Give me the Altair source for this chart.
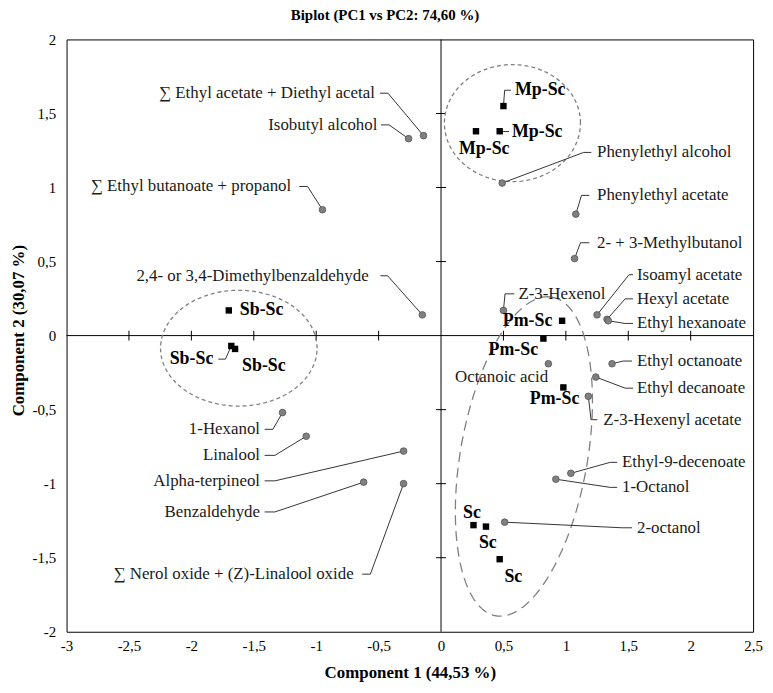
import altair as alt
import numpy as np
import pandas as pd

TITLE = "Biplot (PC1 vs PC2: 74,60 %)"
X_TITLE = "Component 1 (44,53 %)"
Y_TITLE = "Component 2 (30,07 %)"

x_ticks = [-3, -2.5, -2, -1.5, -1, -0.5, 0, 0.5, 1, 1.5, 2, 2.5]
y_ticks = [-2, -1.5, -1, -0.5, 0, 0.5, 1, 1.5, 2]
cross_x = [-2.5, -2, -1.5, -1, -0.5, 0.5, 1, 1.5, 2]
cross_y = [-1.5, -1, -0.5, 0.5, 1, 1.5]

# ---- variables (grey circles) ----
var_names = [
    "∑ Ethyl acetate + Diethyl acetal", "Isobutyl alcohol",
    "∑ Ethyl butanoate + propanol", "2,4- or 3,4-Dimethylbenzaldehyde",
    "1-Hexanol", "Linalool", "Alpha-terpineol", "Benzaldehyde",
    "∑ Nerol oxide + (Z)-Linalool oxide",
    "Phenylethyl alcohol", "Phenylethyl acetate", "2- + 3-Methylbutanol",
    "Z-3-Hexenol", "Isoamyl acetate", "Hexyl acetate", "Ethyl hexanoate",
    "Octanoic acid", "Ethyl octanoate", "Ethyl decanoate",
    "Z-3-Hexenyl acetate", "Ethyl-9-decenoate", "1-Octanol", "2-octanol",
]
var_pc1 = [-0.14, -0.26, -0.95, -0.15, -1.27, -1.08, -0.30, -0.62, -0.30,
           0.49, 1.08, 1.07, 0.50, 1.25, 1.33, 1.34, 0.86, 1.37, 1.24,
           1.18, 1.04, 0.92, 0.51]
var_pc2 = [1.35, 1.33, 0.85, 0.14, -0.52, -0.68, -0.78, -0.99, -1.00,
           1.03, 0.82, 0.52, 0.17, 0.14, 0.11, 0.10, -0.19, -0.19, -0.28,
           -0.41, -0.93, -0.97, -1.26]
var_lab_x = [-0.53, -0.51, -1.20, -0.58, -1.45, -1.45, -1.45, -1.45, -0.70,
             1.25, 1.25, 1.25, 0.62, 1.57, 1.57, 1.57, 0.485, 1.57, 1.57,
             1.30, 1.45, 1.45, 1.57]
var_lab_y = [1.637, 1.423, 1.007, 0.404, -0.633, -0.809, -0.981, -1.191, -1.611,
             1.237, 0.947, 0.627, 0.282, 0.411, 0.248, 0.082, -0.277, -0.172, -0.355,
             -0.568, -0.856, -1.025, -1.298]
var_lab_align = ["right"] * 9 + ["left"] * 7 + ["center"] + ["left"] * 6
var_elbow_x = [-0.425, -0.417, -1.069, -0.428, -1.347, -1.331, -1.331, -1.331, -0.566,
               1.143, 1.125, 1.117, 0.513, 1.506, 1.475, 1.475, None, 1.459, 1.475,
               1.202, 1.355, 1.355, 1.451]
var_stub_x = [-0.489, -0.481, -1.135, -0.486, -1.413, -1.413, -1.413, -1.413, -0.632,
              1.204, 1.188, 1.188, 0.587, 1.538, 1.538, 1.538, None, 1.530, 1.538,
              1.252, 1.411, 1.411, 1.530]

# ---- observations (black squares) ----
obs_names = ["Mp-Sc", "Mp-Sc", "Mp-Sc", "Pm-Sc", "Pm-Sc", "Pm-Sc",
             "Sb-Sc", "Sb-Sc", "Sb-Sc", "Sc", "Sc", "Sc"]
obs_pc1 = [0.50, 0.28, 0.47, 0.97, 0.82, 0.98, -1.70, -1.68, -1.65, 0.26, 0.36, 0.47]
obs_pc2 = [1.55, 1.38, 1.38, 0.10, -0.02, -0.35, 0.17, -0.07, -0.09, -1.28, -1.29, -1.51]
obs_lab_x = [0.592, 0.346, 0.568, 0.892, 0.579, 0.910, -1.612, -1.824, -1.594, 0.248, 0.375, 0.579]
obs_lab_y = [1.657, 1.260, 1.378, 0.096, -0.097, -0.427, 0.170, -0.159, -0.204, -1.198, -1.403, -1.629]
obs_lab_align = ["left", "center", "left", "right", "center", "center",
                 "left", "right", "left", "center", "center", "center"]
obs_elbow_x = [0.510, None, 0.475, None, None, None, None, -1.727, None, None, None, None]
obs_stub_x = [0.560, None, 0.545, None, None, None, None, -1.784, None, None, None, None]

# ---- group ellipses: centre, two half-axis vectors ----
ell_ids = ["Mp", "Sb", "Pm+Sc"]
ell_cx = [0.572, -1.62, 0.664]
ell_cy = [1.435, -0.085, -0.816]
ell_ux = [0.545, 0.627, 0.225]
ell_uy = [0.0, 0.0, 1.076]
ell_vx = [0.0, 0.0, 0.501]
ell_vy = [0.395, 0.391, -0.074]
ell_dash = ["short", "short", "long"]

SERIF = "Liberation Serif"
xscale = alt.Scale(domain=[-3, 2.5], nice=False, zero=False)
yscale = alt.Scale(domain=[-2, 2], nice=False, zero=False)
lab_expr = "replace(toString(datum.value), '.', ',')"

xaxis = alt.Axis(values=x_ticks, labelExpr=lab_expr, ticks=False, tickSize=0,
                 domain=False, grid=False, labelPadding=7, labelFont=SERIF,
                 labelFontSize=15, labelColor="black", labelFlush=False,
                 labelOverlap=False, title=X_TITLE, titleFont=SERIF,
                 titleFontSize=17, titleFontWeight="bold", titleColor="black",
                 titleY=41, titleBaseline="middle")
yaxis = alt.Axis(values=y_ticks, labelExpr=lab_expr, ticks=False, tickSize=0,
                 domain=False, grid=False, labelPadding=11, labelFont=SERIF,
                 labelFontSize=15, labelColor="black", labelFlush=False,
                 labelOverlap=False, title=Y_TITLE, titleFont=SERIF,
                 titleFontSize=17, titleFontWeight="bold", titleColor="black",
                 titleX=-48, titleY=293, titleBaseline="middle")


def X(f="x"):
    return alt.X(f"{f}:Q", scale=xscale, axis=xaxis)


def Y(f="y"):
    return alt.Y(f"{f}:Q", scale=yscale, axis=yaxis)


# ---- tables ----
var_df = pd.DataFrame({"name": var_names, "x": var_pc1, "y": var_pc2,
                       "lx": var_lab_x, "ly": var_lab_y, "al": var_lab_align})
obs_df = pd.DataFrame({"name": obs_names, "x": obs_pc1, "y": obs_pc2,
                       "lx": obs_lab_x, "ly": obs_lab_y, "al": obs_lab_align})

segs = []
for xs, ys, lys, exs, sxs in [(var_pc1, var_pc2, var_lab_y, var_elbow_x, var_stub_x),
                              (obs_pc1, obs_pc2, obs_lab_y, obs_elbow_x, obs_stub_x)]:
    for px, py, ly, ex, sx in zip(xs, ys, lys, exs, sxs):
        if ex is None:
            continue
        segs.append({"x": px, "y": py, "x2": ex, "y2": ly})
        segs.append({"x": ex, "y": ly, "x2": sx, "y2": ly})
seg_df = pd.DataFrame(segs)

t = np.linspace(0, 2 * np.pi, 181)
ell_rows = []
for i, eid in enumerate(ell_ids):
    for k, tt in enumerate(t):
        ell_rows.append({
            "id": eid, "k": k, "dash": ell_dash[i],
            "x": ell_cx[i] + np.cos(tt) * ell_ux[i] + np.sin(tt) * ell_vx[i],
            "y": ell_cy[i] + np.cos(tt) * ell_uy[i] + np.sin(tt) * ell_vy[i],
        })
ell_df = pd.DataFrame(ell_rows)

# ---- layers ----
zero_v = alt.Chart(pd.DataFrame({"x": [0]})).mark_rule(color="black", strokeWidth=1).encode(x=X())
zero_h = alt.Chart(pd.DataFrame({"y": [0]})).mark_rule(color="black", strokeWidth=1).encode(y=Y())
tick_h = alt.Chart(pd.DataFrame({"x": cross_x, "y": [0] * len(cross_x)})).mark_tick(
    orient="vertical", size=10, thickness=1, color="black", opacity=1).encode(x=X(), y=Y())
tick_v = alt.Chart(pd.DataFrame({"x": [0] * len(cross_y), "y": cross_y})).mark_tick(
    orient="horizontal", size=10, thickness=1, color="black", opacity=1).encode(x=X(), y=Y())

ell_short = alt.Chart(ell_df[ell_df["dash"] == "short"]).mark_line(
    color="#808080", strokeWidth=1.3, strokeDash=[4, 3]).encode(
    x=X(), y=Y(), detail="id:N", order="k:Q")
ell_long = alt.Chart(ell_df[ell_df["dash"] == "long"]).mark_line(
    color="#808080", strokeWidth=1.3, strokeDash=[10, 6]).encode(
    x=X(), y=Y(), detail="id:N", order="k:Q")

leaders = alt.Chart(seg_df).mark_rule(color="#333333", strokeWidth=1).encode(
    x=X(), y=Y(), x2="x2:Q", y2="y2:Q")

circles = alt.Chart(var_df).mark_circle(size=45, color="#808080", opacity=1,
                                        stroke="#555555", strokeWidth=0.8).encode(x=X(), y=Y())
squares = alt.Chart(obs_df).mark_square(size=42, color="black", opacity=1).encode(x=X(), y=Y())

layers = [zero_v, zero_h, tick_h, tick_v, ell_short, ell_long, leaders, circles, squares]
for al in ["left", "right", "center"]:
    layers.append(alt.Chart(var_df[var_df["al"] == al]).mark_text(
        align=al, baseline="middle", font=SERIF, fontSize=17, color="#1a1a1a").encode(
        x=X("lx"), y=Y("ly"), text="name:N"))
    layers.append(alt.Chart(obs_df[obs_df["al"] == al]).mark_text(
        align=al, baseline="middle", font=SERIF, fontSize=18, fontWeight="bold",
        color="black").encode(x=X("lx"), y=Y("ly"), text="name:N"))

chart = alt.layer(*layers).properties(
    width=692, height=597,
    title=alt.TitleParams(TITLE, font=SERIF, fontSize=15, fontWeight="bold",
                          color="black", offset=10, dx=-25, anchor="middle", frame="group"),
    autosize=alt.AutoSizeParams(type="none"),
    padding={"left": 59, "top": 29, "right": 12, "bottom": 52},
).configure_view(stroke="black", strokeWidth=1)

chart.save("out.html", embed_options={"renderer": "svg", "actions": False})
